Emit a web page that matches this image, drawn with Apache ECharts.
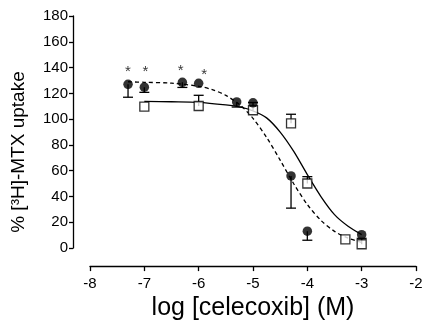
<!DOCTYPE html>
<html>
<head>
<meta charset="utf-8">
<script src="https://cdn.jsdelivr.net/npm/echarts@6/dist/echarts.min.js"></script>
<style>html,body{margin:0;padding:0;background:#fff;}#c{width:427px;height:326px;}</style>
</head>
<body>
<div id="c"></div>
<script>
// Filled circles (dashed fit)
var circX = [-7.3, -7, -6.3, -6, -5.3, -5, -4.3, -4, -3];
var circY = [127, 124.8, 128.6, 127.8, 113.4, 112.7, 56, 13.1, 10.4];
var circErrLow = [10, 4, 4, 0, 4, 0, 25, 7, 0];
// Open squares (solid fit)
var sqX = [-7, -6, -5, -4.3, -4, -3.3, -3];
var sqY = [109.7, 110.2, 106.9, 96.8, 50.1, 6.8, 3];
var sqErrHigh = [0, 8.3, 6, 7, 5.3, 0, 4.6];
// Fitted curves
var dashX = [-7.3, -7, -6.5, -6, -5.75, -5.5, -5.25, -5, -4.75, -4.5, -4.25, -4, -3.75, -3.5, -3.25, -3];
var dashY = [129, 128.6, 127.9, 125.5, 122.9, 118.4, 111.4, 100.6, 85.9, 68.2, 49.9, 33.8, 21.5, 13, 7.7, 4.4];
var solidX = [-7, -6.5, -6, -5.5, -5.25, -5, -4.75, -4.5, -4.25, -4, -3.75, -3.5, -3.25, -3];
var solidY = [113.8, 113.5, 113, 111, 109.5, 106.5, 101, 90, 75, 57, 40, 26, 17, 10.5];
// Significance markers
var starX = [-7.3, -6.98, -6.33, -5.9];
var starY = [137, 137, 137.5, 134.5];
var xTicks = [-8, -7, -6, -5, -4, -3, -2];
var yTicks = [0, 20, 40, 60, 80, 100, 120, 140, 160, 180];

var FONT = 'Liberation Sans, Arial, sans-serif';
function zip(a, b) { return a.map(function (v, i) { return [v, b[i]]; }); }

var circErrData = [];
circX.forEach(function (x, i) { if (circErrLow[i] > 0) circErrData.push([x, circY[i], circY[i] - circErrLow[i]]); });
var sqErrData = [];
sqX.forEach(function (x, i) { if (sqErrHigh[i] > 0) sqErrData.push([x, sqY[i], sqY[i] + sqErrHigh[i]]); });

function errRender(params, api) {
  var p0 = api.coord([api.value(0), api.value(1)]);
  var p1 = api.coord([api.value(0), api.value(2)]);
  var hw = 5;
  var st = { stroke: '#000', lineWidth: 1.3 };
  return {
    type: 'group',
    children: [
      { type: 'line', shape: { x1: p0[0], y1: p0[1], x2: p1[0], y2: p1[1] }, style: st },
      { type: 'line', shape: { x1: p1[0] - hw, y1: p1[1], x2: p1[0] + hw, y2: p1[1] }, style: st }
    ]
  };
}

var chart = echarts.init(document.getElementById('c'));
chart.setOption({
  animation: false,
  backgroundColor: '#fff',
  grid: { left: 90, right: 11, top: 16, bottom: 72, containLabel: false },
  xAxis: {
    type: 'value', min: xTicks[0], max: xTicks[xTicks.length - 1], interval: 1,
    offset: 18,
    name: 'log [celecoxib] (M)', nameLocation: 'middle', nameGap: 24,
    nameTextStyle: { fontFamily: FONT, fontSize: 25, color: '#000' },
    axisLine: { show: true, onZero: false, lineStyle: { color: '#000', width: 1.3 } },
    axisTick: { show: true, length: 5, lineStyle: { color: '#000', width: 1.3 } },
    axisLabel: { fontFamily: FONT, fontSize: 15, color: '#000', margin: 10 },
    splitLine: { show: false }
  },
  yAxis: {
    type: 'value', min: yTicks[0], max: yTicks[yTicks.length - 1], interval: 20,
    offset: 17,
    name: '% [³H]-MTX uptake', nameLocation: 'middle', nameGap: 45,
    nameTextStyle: { fontFamily: FONT, fontSize: 19, color: '#000', padding: [0, 40, 0, 0] },
    axisLine: { show: true, onZero: false, lineStyle: { color: '#000', width: 1.3 } },
    axisTick: { show: true, length: 4, lineStyle: { color: '#000', width: 1.3 } },
    axisLabel: { fontFamily: FONT, fontSize: 15, color: '#000', margin: 5 },
    splitLine: { show: false }
  },
  series: [
    { type: 'line', data: zip(dashX, dashY), smooth: 0.3, showSymbol: false, symbol: 'none',
      lineStyle: { color: '#000', width: 1.3, type: [4, 3] }, z: 2 },
    { type: 'line', data: zip(solidX, solidY), smooth: 0.3, showSymbol: false, symbol: 'none',
      lineStyle: { color: '#000', width: 1.3 }, z: 2 },
    { type: 'custom', renderItem: errRender, data: circErrData, z: 3 },
    { type: 'custom', renderItem: errRender, data: sqErrData, z: 3 },
    { type: 'scatter', data: zip(sqX, sqY), symbol: 'rect', symbolSize: 9,
      itemStyle: { color: '#fff', borderColor: '#000', borderWidth: 1.3 }, z: 4 },
    { type: 'scatter', data: zip(circX, circY), symbol: 'circle', symbolSize: 9.5,
      itemStyle: { color: '#000' }, z: 5 },
    { type: 'scatter', data: zip(starX, starY), symbol: 'circle', symbolSize: 1,
      itemStyle: { color: 'rgba(0,0,0,0)' },
      label: { show: true, position: 'inside', formatter: '*', fontFamily: FONT, fontSize: 15, color: '#000' }, z: 6 }
  ]
});
</script>
</body>
</html>
